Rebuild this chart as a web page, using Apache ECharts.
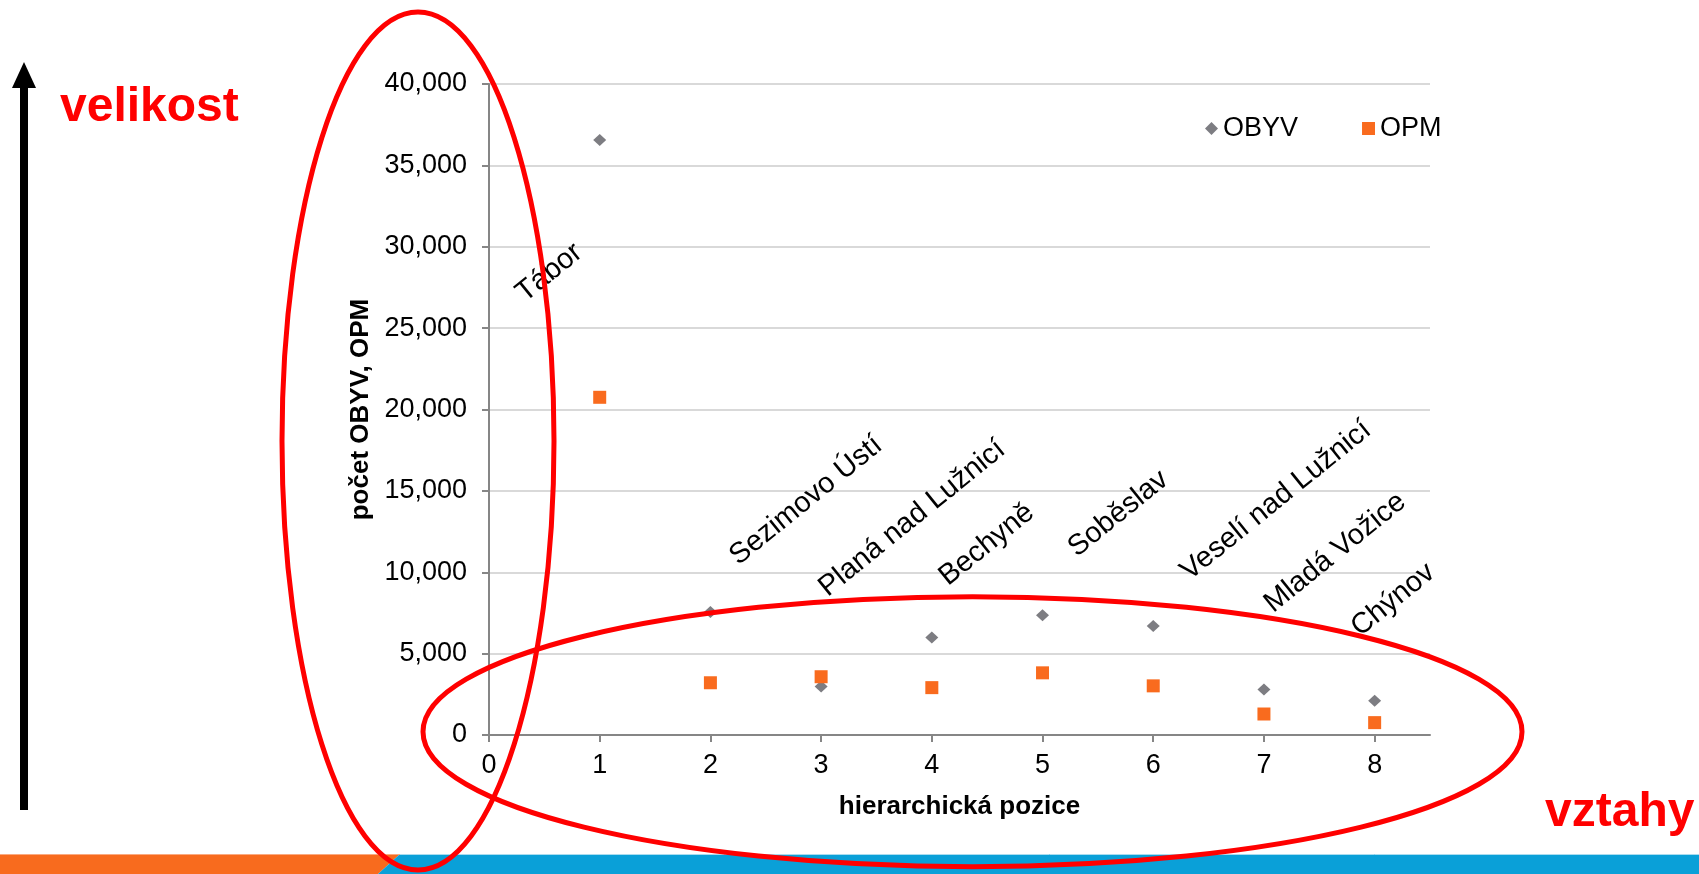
<!DOCTYPE html>
<html>
<head>
<meta charset="utf-8">
<script src="https://cdn.jsdelivr.net/npm/echarts@6/dist/echarts.min.js"></script>
<style>
  html, body { margin: 0; padding: 0; background: #fff; }
  #chart { width: 1699px; height: 874px; }
</style>
</head>
<body>
<div id="chart"></div>
<script>
// hierarchical position of each town
const positions = [1, 2, 3, 4, 5, 6, 7, 8];
const towns = ['Tábor', 'Sezimovo Ústí', 'Planá nad Lužnicí', 'Bechyně', 'Soběslav', 'Veselí nad Lužnicí', 'Mladá Vožice', 'Chýnov'];
const obyv = [36560, 7560, 2980, 5990, 7360, 6690, 2790, 2110];
const opm = [20750, 3210, 3580, 2910, 3820, 3020, 1290, 760];
// where the town names sit (in axis units)
const labelX = [0.545, 2.864, 3.823, 4.496, 5.685, 7.109, 7.643, 8.167];
const labelY = [28400, 14400, 13300, 11700, 13600, 14400, 11200, 8300];
const xTicks = [0, 1, 2, 3, 4, 5, 6, 7, 8];

const FONT = '"Liberation Sans", Arial, sans-serif';
const AXIS_GRAY = '#868686';

const chart = echarts.init(document.getElementById('chart'));

const pairs = (xs, ys) => xs.map((x, i) => [x, ys[i]]);

const option = {
  backgroundColor: '#fff',
  animation: false,
  textStyle: { fontFamily: FONT, color: '#000' },
  grid: { left: 489, right: 269, top: 84, bottom: 139, containLabel: false, outerBoundsMode: 'none' },
  legend: {
    left: 1200,
    top: 110,
    itemWidth: 13,
    itemHeight: 13,
    itemGap: 64,
    selectedMode: false,
    textStyle: { fontFamily: FONT, fontSize: 27, color: '#000' },
    data: [
      { name: 'OBYV', icon: 'diamond' },
      { name: 'OPM', icon: 'rect' }
    ]
  },
  xAxis: {
    type: 'value',
    min: 0,
    max: 8.5,
    interval: 1,
    name: 'hierarchická pozice',
    nameLocation: 'middle',
    nameGap: 59,
    nameTextStyle: { fontFamily: FONT, fontSize: 26, fontWeight: 'bold', color: '#000' },
    axisLine: { show: true, onZero: false, lineStyle: { color: AXIS_GRAY, width: 2 } },
    axisTick: { show: true, length: 7, customValues: xTicks, lineStyle: { color: AXIS_GRAY, width: 2 } },
    axisLabel: { customValues: xTicks, margin: 17, fontSize: 27, color: '#000', fontFamily: FONT },
    splitLine: { show: false }
  },
  yAxis: {
    type: 'value',
    min: 0,
    max: 40000,
    interval: 5000,
    name: 'počet OBYV, OPM',
    nameLocation: 'middle',
    nameGap: 98,
    nameRotate: 90,
    nameTextStyle: { fontFamily: FONT, fontSize: 26, fontWeight: 'bold', color: '#000' },
    axisLine: { show: true, lineStyle: { color: AXIS_GRAY, width: 2 } },
    axisTick: { show: true, length: 7, lineStyle: { color: AXIS_GRAY, width: 2 } },
    axisLabel: {
      margin: 22,
      fontSize: 27,
      color: '#000',
      fontFamily: FONT,
      formatter: (v) => v.toLocaleString('en-US')
    },
    splitLine: { show: true, lineStyle: { color: '#d9d9d9', width: 2 } }
  },
  series: [
    {
      name: 'OBYV',
      type: 'scatter',
      symbol: 'diamond',
      symbolSize: [13, 12],
      itemStyle: { color: '#7d7d82', opacity: 1 },
      data: pairs(positions, obyv),
      z: 3
    },
    {
      name: 'OPM',
      type: 'scatter',
      symbol: 'rect',
      symbolSize: 13,
      itemStyle: { color: '#f96b1e', opacity: 1 },
      data: pairs(positions, opm),
      z: 4
    },
    {
      name: 'towns',
      type: 'scatter',
      symbolSize: 0,
      silent: true,
      itemStyle: { opacity: 1 },
      data: labelX.map((x, i) => ({ value: [x, labelY[i]], name: towns[i] })),
      label: {
        show: true,
        position: 'inside',
        formatter: '{b}',
        rotate: 39,
        fontSize: 29,
        fontFamily: FONT,
        color: '#000',
        opacity: 1
      },
      z: 5
    }
  ],
  graphic: [
    // bottom band of the slide
    { type: 'polygon', shape: { points: [[0, 854], [400, 854], [378, 874], [0, 874]] }, style: { fill: '#f86b1e' }, z: 1 },
    { type: 'polygon', shape: { points: [[400, 854], [1699, 854], [1699, 874], [378, 874]] }, style: { fill: '#0aa0d8' }, z: 1 },
    { type: 'line', shape: { x1: 0, y1: 854.5, x2: 400, y2: 854.5 }, style: { stroke: '#fbaa80', lineWidth: 1 }, z: 2 },
    { type: 'line', shape: { x1: 400, y1: 854.5, x2: 1699, y2: 854.5 }, style: { stroke: '#a9dcef', lineWidth: 1 }, z: 2 },
    // arrow on the left
    { type: 'line', shape: { x1: 24, y1: 84, x2: 24, y2: 810 }, style: { stroke: '#000', lineWidth: 8 }, z: 10 },
    { type: 'polygon', shape: { points: [[24, 62], [12, 88], [36, 88]] }, style: { fill: '#000' }, z: 10 },
    // red words
    { type: 'text', x: 60, y: 108, style: { text: 'velikost', font: 'bold 48px ' + FONT, fill: '#ff0000', align: 'left', verticalAlign: 'middle' }, z: 10 },
    { type: 'text', x: 1545, y: 813, style: { text: 'vztahy', font: 'bold 48px ' + FONT, fill: '#ff0000', align: 'left', verticalAlign: 'middle' }, z: 10 },
    // red ellipses
    { type: 'ellipse', shape: { cx: 418, cy: 441, rx: 136, ry: 429 }, style: { fill: 'none', stroke: '#ff0000', lineWidth: 5 }, z: 100 },
    { type: 'ellipse', shape: { cx: 972.5, cy: 731.7, rx: 549.5, ry: 135 }, style: { fill: 'none', stroke: '#ff0000', lineWidth: 5 }, z: 100 }
  ]
};

chart.setOption(option);
</script>
</body>
</html>
